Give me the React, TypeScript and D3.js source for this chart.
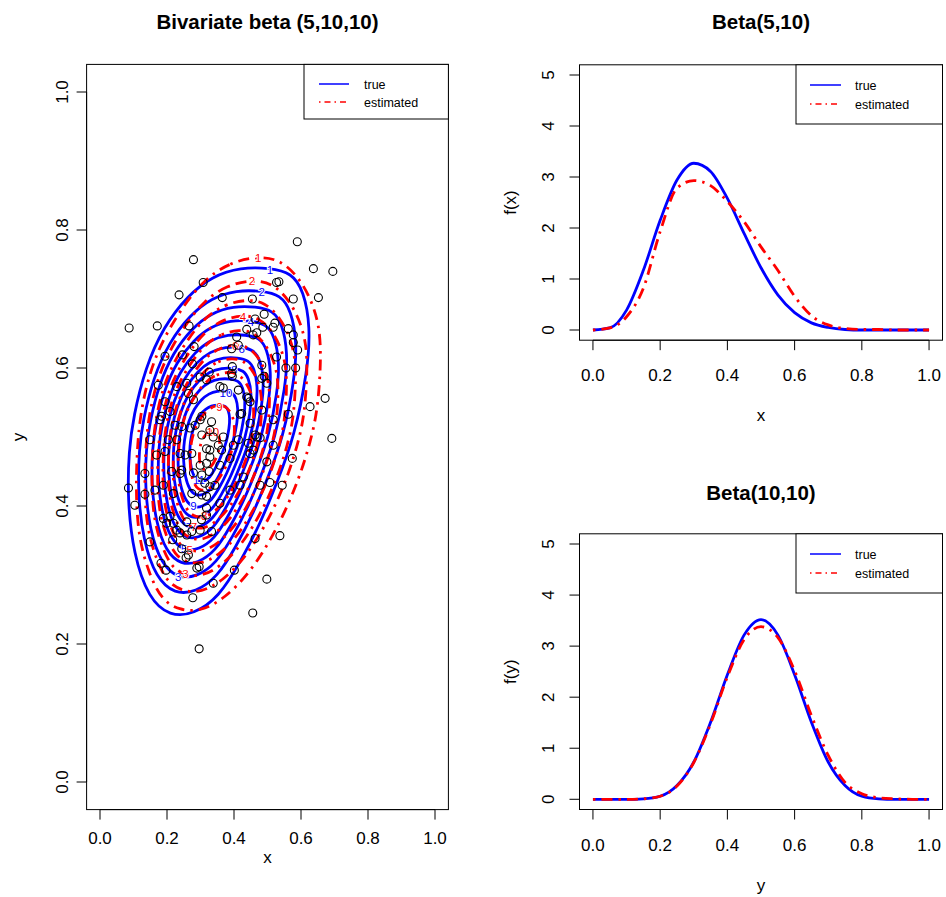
import { useEffect, useRef } from 'react';
import * as d3 from 'd3';

const WIDTH = 946;
const HEIGHT = 897;
const FONT = '"Liberation Sans", Arial, Helvetica, sans-serif';
const BLUE = '#0000ff';
const RED = '#ff0000';

// simulated sample (x, y)
const samplePoints: [number, number][] = [
  [0.279, 0.757], [0.308, 0.724], [0.236, 0.706], [0.365, 0.702], [0.455, 0.700], [0.527, 0.724],
  [0.087, 0.658], [0.171, 0.661], [0.266, 0.661], [0.463, 0.671], [0.490, 0.678], [0.486, 0.659],
  [0.438, 0.656], [0.457, 0.648], [0.517, 0.659], [0.281, 0.631], [0.194, 0.617], [0.246, 0.619],
  [0.408, 0.645], [0.413, 0.633], [0.393, 0.628], [0.276, 0.606], [0.326, 0.594], [0.395, 0.602],
  [0.395, 0.588], [0.483, 0.604], [0.527, 0.616], [0.589, 0.783], [0.637, 0.744], [0.695, 0.740],
  [0.534, 0.725], [0.577, 0.700], [0.652, 0.702], [0.522, 0.665], [0.562, 0.657], [0.577, 0.648],
  [0.577, 0.637], [0.590, 0.626], [0.555, 0.600], [0.584, 0.600], [0.490, 0.588], [0.498, 0.578],
  [0.672, 0.556], [0.627, 0.544], [0.562, 0.533], [0.517, 0.525], [0.483, 0.539], [0.692, 0.498],
  [0.517, 0.488], [0.478, 0.499], [0.574, 0.469], [0.498, 0.464], [0.507, 0.434], [0.544, 0.430],
  [0.478, 0.430], [0.537, 0.357], [0.498, 0.294], [0.296, 0.193], [0.456, 0.245], [0.463, 0.353],
  [0.401, 0.307], [0.338, 0.288], [0.277, 0.267], [0.289, 0.310], [0.296, 0.312], [0.197, 0.307],
  [0.182, 0.317], [0.257, 0.325], [0.244, 0.338], [0.149, 0.348], [0.217, 0.351], [0.239, 0.361],
  [0.259, 0.358], [0.274, 0.363], [0.299, 0.365], [0.333, 0.363], [0.199, 0.375], [0.259, 0.377],
  [0.104, 0.401], [0.134, 0.417], [0.085, 0.426], [0.189, 0.382], [0.209, 0.385], [0.219, 0.375],
  [0.229, 0.365], [0.264, 0.329], [0.318, 0.387], [0.318, 0.397], [0.303, 0.380], [0.358, 0.404],
  [0.274, 0.418], [0.304, 0.416], [0.219, 0.418], [0.164, 0.423], [0.189, 0.430], [0.239, 0.447],
  [0.214, 0.450], [0.244, 0.452], [0.279, 0.448], [0.304, 0.445], [0.326, 0.450], [0.328, 0.428],
  [0.343, 0.430], [0.388, 0.423], [0.418, 0.430], [0.358, 0.459], [0.318, 0.462], [0.299, 0.459],
  [0.239, 0.476], [0.254, 0.474], [0.274, 0.476], [0.328, 0.471], [0.328, 0.481], [0.318, 0.483],
  [0.353, 0.488], [0.363, 0.481], [0.398, 0.488], [0.448, 0.476], [0.413, 0.496], [0.443, 0.491],
  [0.338, 0.500], [0.304, 0.503], [0.194, 0.479], [0.134, 0.447], [0.463, 0.503], [0.149, 0.496],
  [0.169, 0.474], [0.174, 0.575], [0.194, 0.551], [0.209, 0.537], [0.179, 0.525], [0.224, 0.517],
  [0.204, 0.496], [0.229, 0.496], [0.244, 0.515], [0.269, 0.513], [0.284, 0.517], [0.299, 0.525],
  [0.304, 0.530], [0.333, 0.522], [0.368, 0.500], [0.328, 0.510], [0.229, 0.573], [0.259, 0.578],
  [0.264, 0.563], [0.279, 0.554], [0.299, 0.587], [0.318, 0.583], [0.358, 0.573], [0.368, 0.571],
  [0.393, 0.592], [0.413, 0.568], [0.438, 0.558], [0.423, 0.534], [0.448, 0.551], [0.468, 0.500],
  [0.458, 0.481], [0.388, 0.469], [0.428, 0.442], [0.313, 0.433], [0.318, 0.414], [0.468, 0.651],
  [0.483, 0.585], [0.443, 0.556], [0.184, 0.530], [0.418, 0.533], [0.448, 0.520],
];

// true density contours: outer level outline, inner levels shrink toward the mode
const trueCenter: [number, number] = [0.32, 0.49];
const trueOutline: [number, number][] = [
  [0.507, 0.745], [0.572, 0.738], [0.608, 0.712], [0.628, 0.66], [0.62, 0.597], [0.58, 0.5],
  [0.53, 0.436], [0.478, 0.374], [0.418, 0.318], [0.355, 0.268], [0.28, 0.243], [0.209, 0.24],
  [0.145, 0.266], [0.1, 0.33], [0.082, 0.409], [0.086, 0.481], [0.1, 0.53], [0.135, 0.6],
  [0.19, 0.66], [0.262, 0.705], [0.335, 0.733], [0.42, 0.746],
];
const trueLevels = [1, 2, 3, 4, 5, 6, 7, 8, 9, 10, 11];
const trueScales = [1, 0.87, 0.78, 0.7, 0.62, 0.55, 0.49, 0.43, 0.37, 0.3, 0.22];
// outline vertex where each level's label sits
const trueLabelAt = [0, 0, 11, 0, 11, 0, 11, 0, 11, 0, 11];

// estimated density contours
const estCenter: [number, number] = [0.32, 0.478];
const estOutline: [number, number][] = [
  [0.31, 0.728], [0.388, 0.753], [0.472, 0.762], [0.54, 0.757], [0.6, 0.728], [0.638, 0.69],
  [0.656, 0.655], [0.66, 0.612], [0.65, 0.539], [0.628, 0.493], [0.598, 0.445], [0.553, 0.392],
  [0.507, 0.349], [0.448, 0.304], [0.373, 0.266], [0.299, 0.247], [0.237, 0.249], [0.183, 0.264],
  [0.145, 0.304], [0.117, 0.351], [0.107, 0.409], [0.11, 0.481], [0.122, 0.54], [0.152, 0.6],
  [0.193, 0.646], [0.246, 0.688],
];
const estLevels = [1, 2, 3, 4, 5, 6, 7, 8, 9, 10];
const estScales = [1, 0.88, 0.78, 0.7, 0.625, 0.55, 0.48, 0.41, 0.24, 0.11];
const estLabelAt = [2, 2, 16, 2, 16, 2, 16, 15, 2, 2];

// marginal densities
const densityGrid = [0, 0.05, 0.1, 0.15, 0.2, 0.25, 0.3, 0.35, 0.4, 0.45, 0.5, 0.55, 0.6, 0.65, 0.7, 0.75, 0.8, 0.85, 0.9, 0.95, 1];
const betaXTrue = [0, 0.04, 0.39, 1.17, 2.15, 2.94, 3.27, 3.11, 2.58, 1.89, 1.22, 0.69, 0.34, 0.14, 0.05, 0.01, 0, 0, 0, 0, 0];
const betaXEst = [0, 0.04, 0.26, 0.82, 1.93, 2.78, 2.93, 2.83, 2.52, 2.12, 1.63, 1.17, 0.66, 0.28, 0.1, 0.03, 0.01, 0.01, 0, 0, 0];
const betaYTrue = [0, 0, 0, 0.01, 0.06, 0.27, 0.73, 1.51, 2.44, 3.22, 3.52, 3.22, 2.44, 1.51, 0.73, 0.27, 0.06, 0.01, 0, 0, 0];
const betaYEst = [0, 0, 0, 0.01, 0.06, 0.26, 0.72, 1.48, 2.4, 3.13, 3.38, 3.17, 2.52, 1.64, 0.86, 0.33, 0.11, 0.03, 0.01, 0, 0];

const unitTicks = [0, 0.2, 0.4, 0.6, 0.8, 1];
const densityTicks = [0, 1, 2, 3, 4, 5];
const legendLabels = ['true', 'estimated'];

const DASH = '2.5,6,11,6';

const Chart = () => {
  const svgRef = useRef<SVGSVGElement>(null);

  useEffect(() => {
    renderChart();
  }, []);

  const renderChart = () => {
    const svg = d3.select(svgRef.current);
    svg.selectAll('*').remove();

    const frame = (g: any, xs: any, ys: any, box: any, yTicks: number[], yFmt: (d: number) => string, cfg: any) => {
      g.append('rect')
        .attr('x', box.left).attr('y', box.top)
        .attr('width', box.right - box.left).attr('height', box.bottom - box.top)
        .attr('fill', 'none').attr('stroke', '#000').attr('stroke-width', 1);

      g.append('line')
        .attr('x1', xs(unitTicks[0])).attr('x2', xs(unitTicks[unitTicks.length - 1]))
        .attr('y1', box.bottom).attr('y2', box.bottom).attr('stroke', '#000');
      unitTicks.forEach(t => {
        g.append('line').attr('x1', xs(t)).attr('x2', xs(t))
          .attr('y1', box.bottom).attr('y2', box.bottom + 10).attr('stroke', '#000');
        g.append('text').attr('x', xs(t)).attr('y', cfg.xTickY).attr('dy', '0.36em')
          .attr('text-anchor', 'middle').attr('font-size', 17).text(d3.format('.1f')(t));
      });

      g.append('line')
        .attr('y1', ys(yTicks[0])).attr('y2', ys(yTicks[yTicks.length - 1]))
        .attr('x1', box.left).attr('x2', box.left).attr('stroke', '#000');
      yTicks.forEach(t => {
        g.append('line').attr('y1', ys(t)).attr('y2', ys(t))
          .attr('x1', box.left).attr('x2', box.left - 10).attr('stroke', '#000');
        g.append('text').attr('transform', `translate(${cfg.yTickX},${ys(t)}) rotate(-90)`)
          .attr('dy', '0.36em').attr('text-anchor', 'middle').attr('font-size', 17).text(yFmt(t));
      });

      g.append('text').attr('x', (box.left + box.right) / 2).attr('y', cfg.xLabY).attr('dy', '0.36em')
        .attr('text-anchor', 'middle').attr('font-size', 17).text(cfg.xLab);
      g.append('text').attr('transform', `translate(${cfg.yLabX},${(box.top + box.bottom) / 2}) rotate(-90)`)
        .attr('dy', '0.36em').attr('text-anchor', 'middle').attr('font-size', 17).text(cfg.yLab);
      g.append('text').attr('x', (box.left + box.right) / 2).attr('y', cfg.titleY).attr('dy', '0.36em')
        .attr('text-anchor', 'middle').attr('font-size', 20.5).attr('font-weight', 'bold').text(cfg.title);
    };

    const legend = (g: any, box: any, cfg: any) => {
      g.append('rect').attr('x', cfg.left).attr('y', box.top)
        .attr('width', box.right - cfg.left).attr('height', cfg.bottom - box.top)
        .attr('fill', '#fff').attr('stroke', '#000').attr('stroke-width', 1);
      legendLabels.forEach((lab, i) => {
        const yy = cfg.rows[i];
        g.append('line').attr('x1', cfg.lineX[0]).attr('x2', cfg.lineX[1]).attr('y1', yy).attr('y2', yy)
          .attr('stroke', i === 0 ? BLUE : RED).attr('stroke-width', 1.5)
          .attr('stroke-dasharray', i === 0 ? null : '1.5,4,6,4');
        g.append('text').attr('x', cfg.textX).attr('y', yy).attr('dy', '0.36em')
          .attr('font-size', 12.5).text(lab);
      });
    };

    const root = svg.append('g').attr('font-family', FONT).attr('fill', '#000');

    // ---- left panel: bivariate contours ----
    const boxL = { left: 86.6, right: 448.4, top: 64.4, bottom: 809.6 };
    const xL = d3.scaleLinear().domain([-0.04, 1.04]).range([boxL.left, boxL.right]);
    const yL = d3.scaleLinear().domain([-0.04, 1.04]).range([boxL.bottom, boxL.top]);
    const gL = root.append('g');

    const contourLine = d3.line().curve(d3.curveBasisClosed);

    const drawContours = (outline: [number, number][], center: [number, number], levels: number[],
      scales: number[], labelAt: number[], color: string, dashed: boolean) => {
      const pts = (s: number) => outline.map(([px, py]) =>
        [xL(center[0] + s * (px - center[0])), yL(center[1] + s * (py - center[1]))] as [number, number]);
      gL.append('g').selectAll('path').data(scales).join('path')
        .attr('d', s => contourLine(pts(s)))
        .attr('fill', 'none').attr('stroke', color).attr('stroke-width', 2.8)
        .attr('stroke-dasharray', dashed ? DASH : null);
      gL.append('g').selectAll('text').data(levels).join('text')
        .attr('x', (d, i) => pts(scales[i])[labelAt[i]][0])
        .attr('y', (d, i) => {
          const p = pts(scales[i])[labelAt[i]][1];
          return p < yL(center[1]) ? p + 1.5 : p - 1.5;
        })
        .attr('dy', '0.36em').attr('text-anchor', 'middle').attr('font-size', 11.5)
        .attr('fill', color).attr('stroke', '#fff').attr('stroke-width', 2).attr('paint-order', 'stroke')
        .text(d => d);
    };

    drawContours(trueOutline, trueCenter, trueLevels, trueScales, trueLabelAt, BLUE, false);
    drawContours(estOutline, estCenter, estLevels, estScales, estLabelAt, RED, true);

    gL.append('g').selectAll('circle').data(samplePoints).join('circle')
      .attr('cx', d => xL(d[0])).attr('cy', d => yL(d[1])).attr('r', 4)
      .attr('fill', 'none').attr('stroke', '#000').attr('stroke-width', 1.1);

    frame(gL, xL, yL, boxL, unitTicks, d3.format('.1f'), {
      xTickY: 838, yTickX: 62, xLabY: 857, yLabX: 18, xLab: 'x', yLab: 'y',
      titleY: 22, title: 'Bivariate beta (5,10,10)',
    });
    legend(gL, boxL, { left: 304, bottom: 119, lineX: [319, 349], textX: 364, rows: [84, 102] });

    // ---- right panels: marginal densities ----
    const marginal = (box: any, trueVals: number[], estVals: number[], cfg: any) => {
      const xs = d3.scaleLinear().domain([-0.04, 1.04]).range([box.left, box.right]);
      const ys = d3.scaleLinear().domain([-0.2, 5.2]).range([box.bottom, box.top]);
      const g = root.append('g');
      const line = (vals: number[]) => d3.line<number>()
        .x((d, i) => xs(densityGrid[i])).y(d => ys(d))
        .curve(d3.curveMonotoneX)(vals);
      g.append('path').attr('d', line(trueVals)).attr('fill', 'none')
        .attr('stroke', BLUE).attr('stroke-width', 2.8);
      g.append('path').attr('d', line(estVals)).attr('fill', 'none')
        .attr('stroke', RED).attr('stroke-width', 2.8).attr('stroke-dasharray', DASH);
      frame(g, xs, ys, box, densityTicks, d3.format('d'), cfg);
      legend(g, box, cfg.legend);
    };

    marginal({ left: 579.5, right: 942.5, top: 64.8, bottom: 340.2 }, betaXTrue, betaXEst, {
      xTickY: 375, yTickX: 548, xLabY: 415, yLabX: 510, xLab: 'x', yLab: 'f(x)',
      titleY: 22, title: 'Beta(5,10)',
      legend: { left: 796, bottom: 124, lineX: [810, 841], textX: 855, rows: [85, 104] },
    });
    marginal({ left: 579.5, right: 942.5, top: 533.8, bottom: 809.5 }, betaYTrue, betaYEst, {
      xTickY: 845, yTickX: 548, xLabY: 885, yLabX: 510, xLab: 'y', yLab: 'f(y)',
      titleY: 493, title: 'Beta(10,10)',
      legend: { left: 796, bottom: 593, lineX: [810, 841], textX: 855, rows: [554, 573] },
    });
  };

  return (
    <svg ref={svgRef} width={WIDTH} height={HEIGHT}
      style={{ position: 'absolute', left: 0, top: 0, background: '#fff' }} />
  );
};

export default function App() {
  return <Chart />;
}
